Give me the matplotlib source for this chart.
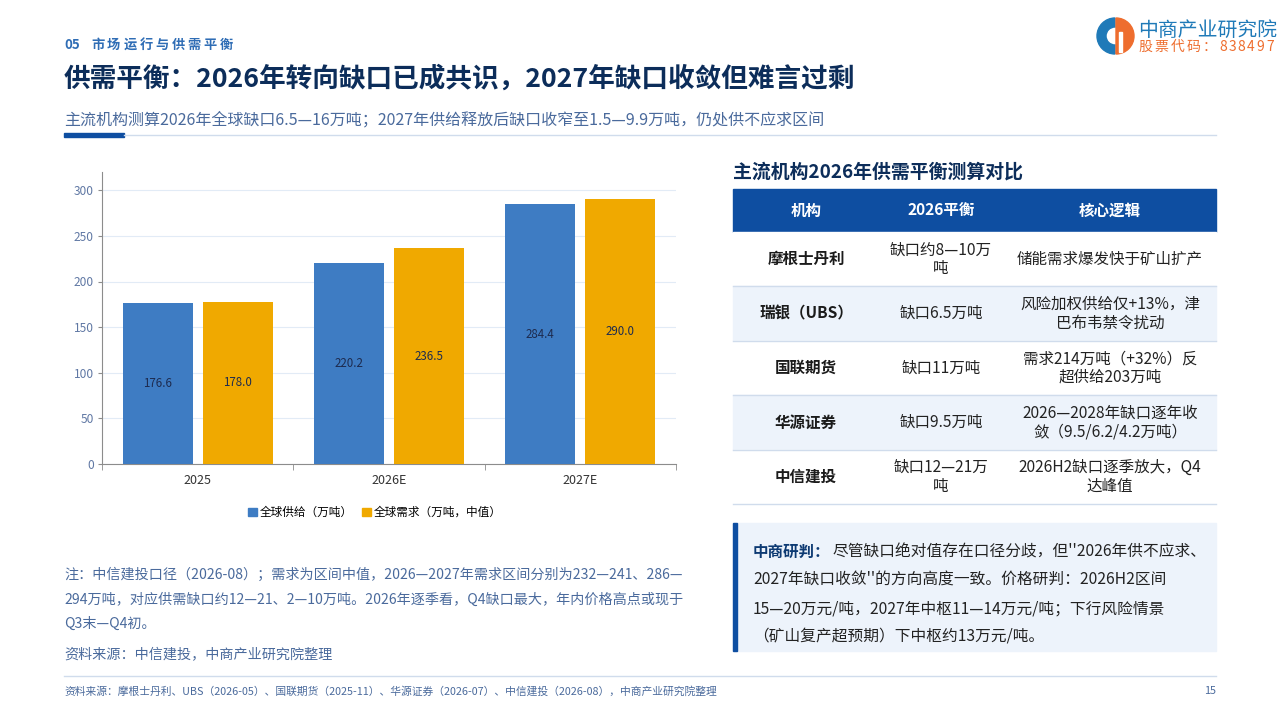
import matplotlib
matplotlib.use("Agg")
import matplotlib.pyplot as plt
from matplotlib.patches import Rectangle, Wedge, Patch
import numpy as np

plt.rcParams['font.family'] = ['Noto Sans CJK SC', 'DejaVu Sans']

# chart data
years = ['2025', '2026E', '2027E']
supply = [176.6, 220.2, 284.4]
demand = [178.0, 236.5, 290.0]
legend_labels = ['全球供给（万吨）', '全球需求（万吨，中值）']

# table data
table_cols = ['机构', '2026平衡', '核心逻辑']
orgs = ['摩根士丹利', '瑞银（UBS）', '国联期货', '华源证券', '中信建投']
balance = ['缺口约8—10万\n吨', '缺口6.5万吨', '缺口11万吨', '缺口9.5万吨', '缺口12—21万\n吨']
logic = ['储能需求爆发快于矿山扩产',
         '风险加权供给仅+13%，津\n巴布韦禁令扰动',
         '需求214万吨（+32%）反\n超供给203万吨',
         '2026—2028年缺口逐年收\n敛（9.5/6.2/4.2万吨）',
         '2026H2缺口逐季放大，Q4\n达峰值']

# texts
section_no = '05'
section = '市场运行与供需平衡'
title = '供需平衡：2026年转向缺口已成共识，2027年缺口收敛但难言过剩'
subtitle = '主流机构测算2026年全球缺口6.5—16万吨；2027年供给释放后缺口收窄至1.5—9.9万吨，仍处供不应求区间'
logo_name = '中商产业研究院'
logo_code = '股票代码：838497'
table_title = '主流机构2026年供需平衡测算对比'
notes = ['注：中信建投口径（2026-08）；需求为区间中值，2026—2027年需求区间分别为232—241、286—',
         '294万吨，对应供需缺口约12—21、2—10万吨。2026年逐季看，Q4缺口最大，年内价格高点或现于',
         'Q3末—Q4初。']
note_source = '资料来源：中信建投，中商产业研究院整理'
judge_head = '中商研判：'
judge_lines = ["尽管缺口绝对值存在口径分歧，但''2026年供不应求、",
               "2027年缺口收敛''的方向高度一致。价格研判：2026H2区间",
               "15—20万元/吨，2027年中枢11—14万元/吨；下行风险情景",
               "（矿山复产超预期）下中枢约13万元/吨。"]
footer = '资料来源：摩根士丹利、UBS（2026-05）、国联期货（2025-11）、华源证券（2026-07）、中信建投（2026-08），中商产业研究院整理'

NAVY = '#0c2d5a'
BLUE_DARK = '#0e4ea1'
TXT_BLUE = '#4a6a9c'
SUPPLY_C = '#3e7cc3'
DEMAND_C = '#f0a900'
ROW_ALT = '#edf3fb'
LINE_C = '#d0dcec'

fig = plt.figure(figsize=(12.8, 7.2), dpi=100)

# background layer in pixel coordinates
bg = fig.add_axes([0, 0, 1, 1])
bg.set_xlim(0, 1280)
bg.set_ylim(720, 0)
bg.axis('off')

# header (section label is letter-spaced)
bg.text(64, 45, section_no, color='#2f6db5', fontsize=9.5, fontweight='bold', va='center')
for i, ch in enumerate(section):
    bg.text(91 + i * 16.1, 45, ch, color='#2f6db5', fontsize=9.5, fontweight='bold', va='center')
bg.text(64, 79, title, color=NAVY, fontsize=19.2, fontweight='bold', va='center')
bg.text(64, 120, subtitle, color=TXT_BLUE, fontsize=11.55, va='center')
bg.add_patch(Rectangle((64, 132.5), 60, 4, color=BLUE_DARK))
bg.plot([124, 1216], [134.5, 134.5], color=LINE_C, lw=1)

# logo
bg.add_patch(Wedge((1115, 36), 18, 90, 270, width=9, color='#1f7ab8'))
bg.add_patch(Wedge((1116, 36), 18, -90, 90, color='#ee6d2e'))
bg.add_patch(Rectangle((1118.5, 32), 3.5, 20, color='white'))
bg.text(1138, 30, logo_name, color='#1f7ab8', fontsize=14.3, fontweight='medium', va='center')
code_x = 1138
for ch in logo_code:
    bg.text(code_x, 47, ch, color='#ee6d2e', fontsize=10, fontweight='medium', va='center')
    code_x += 16.2 if ord(ch) > 255 else 9.4

# bar chart
ax = fig.add_axes([102 / 1280, 1 - 464 / 720, 574 / 1280, 292 / 720])
x = np.arange(len(years))
w = 0.366
off = 0.209
b1 = ax.bar(x - off, supply, w, color=SUPPLY_C, zorder=3)
b2 = ax.bar(x + off, demand, w, color=DEMAND_C, zorder=3)
for bars, vals in [(b1, supply), (b2, demand)]:
    for bar, v in zip(bars, vals):
        ax.text(bar.get_x() + bar.get_width() / 2, v / 2, f'{v:.1f}',
                ha='center', va='center', fontsize=8.3, color='#1d2b4f', zorder=4)

ax.set_xlim(-0.5, 2.5)
ax.set_ylim(0, 320)
ax.set_yticks(range(0, 301, 50))
ax.set_xticks(x)
ax.set_xticklabels(years)
ax.set_xticks([-0.5, 0.5, 1.5, 2.5], minor=True)
ax.grid(axis='y', color='#e2ebf6', lw=0.8, zorder=0)
for s in ['top', 'right']:
    ax.spines[s].set_visible(False)
for s in ['left', 'bottom']:
    ax.spines[s].set_color('#8c8c8c')
    ax.spines[s].set_linewidth(0.8)
ax.tick_params(axis='y', labelsize=8.6, labelcolor='#6078a4', color='#8c8c8c', length=3, pad=3)
ax.tick_params(axis='x', which='major', labelsize=9, labelcolor='#333333', length=0, pad=7)
ax.tick_params(axis='x', which='minor', length=4, color='#8c8c8c')
handles = [Patch(color=SUPPLY_C), Patch(color=DEMAND_C)]
ax.legend(handles, legend_labels, loc='center', bbox_to_anchor=(0.476, -0.165), ncol=2,
          frameon=False, fontsize=8.4, handlelength=0.7, handleheight=0.7,
          handletextpad=0.3, columnspacing=0.8)

# notes under chart
for i, line in enumerate(notes):
    bg.text(64, 575 + i * 24.5, line, color=TXT_BLUE, fontsize=10.15, va='center')
bg.text(64, 655, note_source, color=TXT_BLUE, fontsize=10.15, va='center')

# table
bg.text(733, 172, table_title, color=NAVY, fontsize=13.6, fontweight='bold', va='center')
bg.add_patch(Rectangle((733, 189), 483, 43, color=BLUE_DARK))
col_x = [806, 941, 1110]
for cx, name in zip(col_x, table_cols):
    bg.text(cx, 210.5, name, color='white', fontsize=11.2, fontweight='bold', ha='center', va='center')
row_h = 54.4
for i in range(len(orgs)):
    y0 = 232 + i * row_h
    fill = 'white' if i % 2 == 0 else ROW_ALT
    bg.add_patch(Rectangle((733, y0), 483, row_h, color=fill))
    bg.plot([733, 1216], [y0 + row_h, y0 + row_h], color=LINE_C, lw=1)
    yc = y0 + row_h / 2
    bg.text(col_x[0], yc, orgs[i], color='#1b1b1b', fontsize=11.2, fontweight='bold', ha='center', va='center')
    bg.text(col_x[1], yc, balance[i], color='#222222', fontsize=11.2, ha='center', va='center',
            linespacing=1.12)
    bg.text(col_x[2], yc, logic[i], color='#222222', fontsize=11.2, ha='center', va='center',
            linespacing=1.12)

# judgement box
bg.add_patch(Rectangle((733, 523), 483, 128, color=ROW_ALT))
bg.add_patch(Rectangle((733, 523), 4, 128, color=BLUE_DARK))
bg.text(753, 552, judge_head, color='#0d3a73', fontsize=11.2, fontweight='bold', va='center')
for i, line in enumerate(judge_lines):
    lx = 832 if i == 0 else 753
    bg.text(lx, 552 + i * 28.5, line, color='#222222', fontsize=11.3, va='center')

# footer
bg.plot([64, 1216], [676, 676], color=LINE_C, lw=1)
bg.text(64, 691, footer, color=TXT_BLUE, fontsize=7.75, va='center')
bg.text(1216, 691, '15', color=TXT_BLUE, fontsize=7.8, ha='right', va='center')

fig.savefig('out.png', dpi=100, facecolor='white')
